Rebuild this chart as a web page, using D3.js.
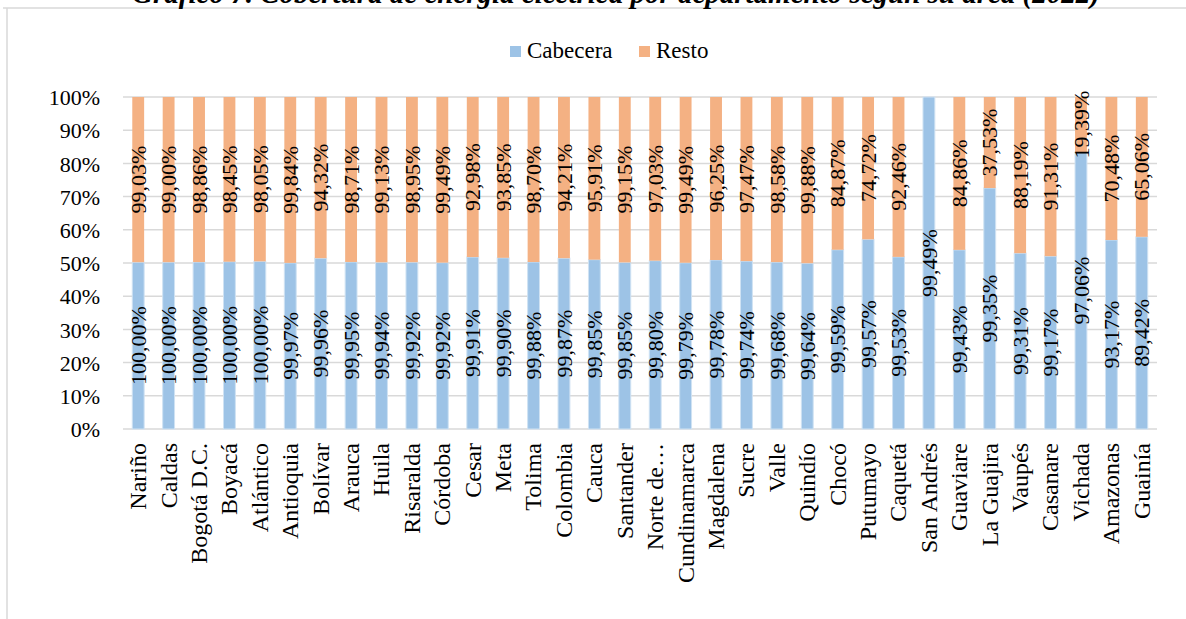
<!DOCTYPE html>
<html>
<head>
<meta charset="utf-8">
<script src="https://cdn.jsdelivr.net/npm/d3@7"></script>
<style>
  body { margin: 0; background: #fff; }
</style>
</head>
<body>
<div id="chart"></div>
<script>
var departamentos = ["Nariño", "Caldas", "Bogotá D.C.", "Boyacá", "Atlántico", "Antioquia", "Bolívar",
    "Arauca", "Huila", "Risaralda", "Córdoba", "Cesar", "Meta", "Tolima", "Colombia", "Cauca",
    "Santander", "Norte de…", "Cundinamarca", "Magdalena", "Sucre", "Valle", "Quindío", "Chocó",
    "Putumayo", "Caquetá", "San Andrés", "Guaviare", "La Guajira", "Vaupés", "Casanare", "Vichada",
    "Amazonas", "Guainía"];
var cabecera = [100.00, 100.00, 100.00, 100.00, 100.00, 99.97, 99.96, 99.95, 99.94, 99.92, 99.92,
    99.91, 99.90, 99.88, 99.87, 99.85, 99.85, 99.80, 99.79, 99.78, 99.74, 99.68, 99.64, 99.59,
    99.57, 99.53, 99.49, 99.43, 99.35, 99.31, 99.17, 97.06, 93.17, 89.42];
var resto = [99.03, 99.00, 98.86, 98.45, 98.05, 99.84, 94.32, 98.71, 99.13, 98.95, 99.49,
    92.98, 93.85, 98.70, 94.21, 95.91, 99.15, 97.03, 99.49, 96.25, 97.47, 98.58, 99.88, 84.87,
    74.72, 92.46, 0, 84.86, 37.53, 88.19, 91.31, 19.39, 70.48, 65.06];
var series = ["Cabecera", "Resto"];
var colores = ["#9DC3E6", "#F4B183"];
var yTicks = [0, 0.1, 0.2, 0.3, 0.4, 0.5, 0.6, 0.7, 0.8, 0.9, 1];
var titulo = "Gráfico 7. Cobertura de energía eléctrica por departamento según su área (2022)";

var width = 1186;
var height = 619;
var margin = { left: 123, right: 29, top: 97, bottom: 190 };
var serif = "'Liberation Serif', 'Times New Roman', serif";

var data = departamentos.map(function (d, i) {
    return { dep: d, Cabecera: cabecera[i], Resto: resto[i] };
});

var svg = d3.select("#chart").append("svg")
    .attr("width", width)
    .attr("height", height)
    .attr("font-family", serif);

// chart border (only top and left visible)
svg.append("line").attr("x1", 3).attr("x2", width).attr("y1", 8).attr("y2", 8)
    .attr("stroke", "#d9d9d9").attr("stroke-width", 1.5);
svg.append("line").attr("x1", 7).attr("x2", 7).attr("y1", 8).attr("y2", height)
    .attr("stroke", "#d9d9d9").attr("stroke-width", 1.5);

// title, cut by the top of the picture as in the source
var title = svg.append("text")
    .attr("x", 616)
    .attr("y", 3)
    .attr("text-anchor", "middle")
    .style("font-family", serif)
    .style("font-weight", "bold")
    .style("font-style", "italic")
    .style("font-size", "20px")
    .text(titulo);
var tl = title.node().getComputedTextLength();
title.style("font-size", (20 * 968 / tl) + "px");

var xScale = d3.scaleBand()
    .domain(departamentos)
    .range([margin.left, width - margin.right])
    .paddingInner(0.61)
    .paddingOuter(0.305);

var yScale = d3.scaleLinear()
    .domain([0, 1])
    .range([429, margin.top]);

var stack = d3.stack().keys(series).offset(d3.stackOffsetExpand);
var stacked = stack(data);

// gridlines
svg.append("g")
    .selectAll("line")
    .data(yTicks)
    .join("line")
    .attr("x1", margin.left)
    .attr("x2", width - margin.right)
    .attr("y1", function (d) { return yScale(d); })
    .attr("y2", function (d) { return yScale(d); })
    .attr("stroke", "#d9d9d9")
    .attr("stroke-width", 1.5);

var yAxis = d3.axisLeft(yScale)
    .tickValues(yTicks)
    .tickSize(0)
    .tickPadding(0)
    .tickFormat(d3.format(".0%"));

svg.append("g")
    .attr("transform", "translate(100,0)")
    .call(yAxis)
    .attr("font-family", serif)
    .call(function (g) { g.select(".domain").remove(); })
    .selectAll("text")
    .attr("dy", "0.35em")
    .style("font-size", "22px")
    .style("font-family", serif);

var xAxis = d3.axisBottom(xScale).tickSize(0).tickPadding(0);

svg.append("g")
    .attr("transform", "translate(0,443)")
    .call(xAxis)
    .attr("font-family", serif)
    .call(function (g) { g.select(".domain").remove(); })
    .selectAll("text")
    .attr("transform", "rotate(-90)")
    .attr("x", 0)
    .attr("y", 0)
    .attr("dy", "0.33em")
    .attr("text-anchor", "end")
    .style("font-size", "24px")
    .style("font-family", serif);

var coma = function (v) { return d3.format(".2f")(v).replace(".", ",") + "%"; };

var groups = svg.append("g")
    .selectAll("g")
    .data(stacked)
    .join("g")
    .attr("fill", function (d, i) { return colores[i]; })
    .attr("stroke", function (d, i) { return i === 0 ? "#cfe2f3" : "none"; });

groups.selectAll("rect")
    .data(function (d) { return d; })
    .join("rect")
    .attr("x", function (d) { return xScale(d.data.dep); })
    .attr("width", xScale.bandwidth())
    .attr("y", function (d) { return yScale(d[1]); })
    .attr("height", function (d) { return yScale(d[0]) - yScale(d[1]); })
    .attr("stroke-width", 1);

// data labels
stacked.forEach(function (layer) {
    var key = layer.key;
    svg.append("g")
        .selectAll("text")
        .data(layer.filter(function (d) { return d.data[key] > 0; }))
        .join("text")
        .attr("transform", function (d) {
            var cx = xScale(d.data.dep) + xScale.bandwidth() / 2;
            var cy = (yScale(d[0]) + yScale(d[1])) / 2;
            return "translate(" + cx + "," + cy + ") rotate(-90)";
        })
        .attr("text-anchor", "middle")
        .attr("dy", "0.35em")
        .style("font-family", serif)
        .style("font-size", "22px")
        .text(function (d) { return coma(d.data[key]); });
});

// legend
var legend = svg.append("g");
var legX = [510, 639];
series.forEach(function (s, i) {
    legend.append("rect")
        .attr("x", legX[i])
        .attr("y", 46)
        .attr("width", 11)
        .attr("height", 11)
        .attr("fill", colores[i]);
    legend.append("text")
        .attr("x", legX[i] + 17)
        .attr("y", 58)
        .style("font-family", serif)
        .style("font-size", "23px")
        .text(s);
});
</script>
</body>
</html>
